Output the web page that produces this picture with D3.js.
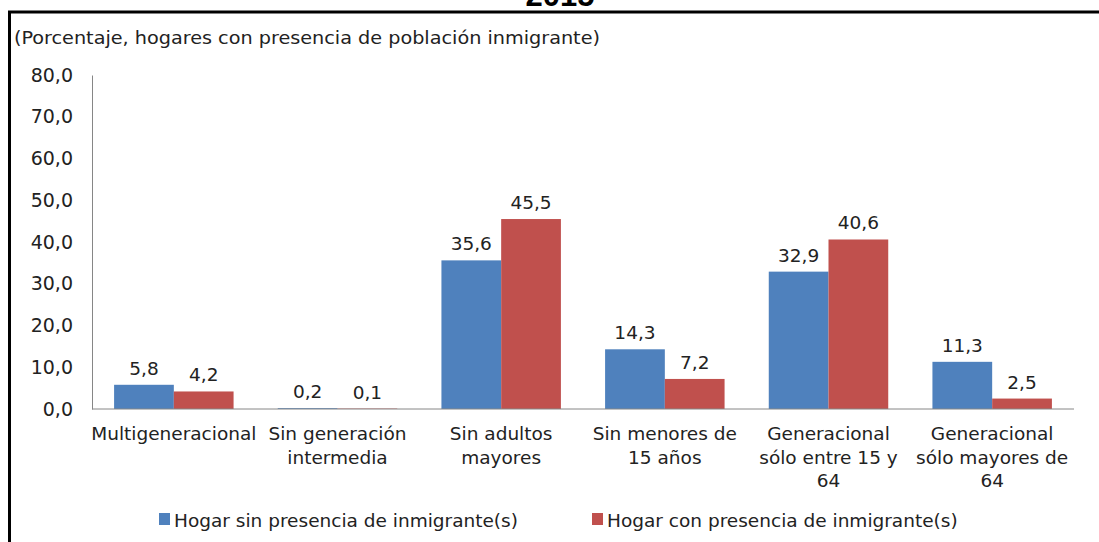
<!DOCTYPE html>
<html>
<head>
<meta charset="utf-8">
<script src="https://cdn.jsdelivr.net/npm/d3@7"></script>
<style>
  body { margin: 0; background: #fff; }
  svg { display: block; }
</style>
</head>
<body>
<div id="plot_area"></div>
<script>
// chart data
var categories = [
  ["Multigeneracional"],
  ["Sin generación", "intermedia"],
  ["Sin adultos", "mayores"],
  ["Sin menores de", "15 años"],
  ["Generacional", "sólo entre 15 y", "64"],
  ["Generacional", "sólo mayores de", "64"]
];
var seriesNames = ["Hogar sin presencia de inmigrante(s)", "Hogar con presencia de inmigrante(s)"];
var sinInmigrante = [5.8, 0.2, 35.6, 14.3, 32.9, 11.3];
var conInmigrante = [4.2, 0.1, 45.5, 7.2, 40.6, 2.5];
var yTicks = [0, 10, 20, 30, 40, 50, 60, 70, 80];
var colors = ["#4F81BD", "#C0504D"];

var W = 1099, H = 542;
var font = "'DejaVu Sans', Verdana, sans-serif";
var fs = "18.5px";
var fmt = function (v) { return d3.format(".1f")(v).replace(".", ","); };

var svg = d3.select("#plot_area").append("svg")
  .attr("width", W).attr("height", H);

// frame (cut off on right and bottom, like the source)
svg.append("rect")
  .attr("x", 9.5).attr("y", 12)
  .attr("width", W + 20).attr("height", H + 20)
  .attr("fill", "none").attr("stroke", "#000").attr("stroke-width", 3);

// title, clipped by the top of the picture
svg.append("text")
  .attr("x", 560).attr("y", 6)
  .attr("text-anchor", "middle")
  .style("font-family", "'Liberation Sans', Arial, sans-serif")
  .style("font-weight", "bold").style("font-size", "31px")
  .text("2015");

svg.append("text")
  .attr("x", 14).attr("y", 44)
  .style("font-family", "'DejaVu Sans Condensed', 'DejaVu Sans', sans-serif")
  .style("font-size", "17px").attr("fill", "#222")
  .attr("textLength", 586).attr("lengthAdjust", "spacingAndGlyphs")
  .text("(Porcentaje, hogares con presencia de población inmigrante)");

var x0 = d3.scaleBand()
  .domain(d3.range(categories.length))
  .range([92, 1074])
  .paddingInner(0.27).paddingOuter(0.135);
var x1 = d3.scaleBand().domain([0, 1]).range([0, x0.bandwidth()]);
var y = d3.scaleLinear().domain([0, 80]).range([409, 75]);

// y axis
var yAxis = svg.append("g")
  .attr("transform", "translate(92,0)")
  .call(d3.axisLeft(y).tickValues(yTicks).tickSize(0).tickPadding(19).tickFormat(fmt));
yAxis.select(".domain").attr("stroke", "#868686");
yAxis.selectAll("text")
  .style("font-family", font).style("font-size", "19px").attr("fill", "#222");

// bars
var series = [sinInmigrante, conInmigrante];
series.forEach(function (vals, s) {
  var g = svg.append("g");
  g.selectAll("rect").data(vals).enter().append("rect")
    .attr("x", function (d, i) { return x0(i) + x1(s); })
    .attr("y", function (d) { return y(d); })
    .attr("width", x1.bandwidth())
    .attr("height", function (d) { return y(0) - y(d); })
    .attr("fill", colors[s]);
  g.selectAll("text").data(vals).enter().append("text")
    .attr("x", function (d, i) { return x0(i) + x1(s) + x1.bandwidth() / 2; })
    .attr("y", function (d) { return y(d) - 10; })
    .attr("text-anchor", "middle")
    .style("font-family", font).style("font-size", fs).attr("fill", "#222")
    .text(fmt);
});

// x baseline
svg.append("line")
  .attr("x1", 92).attr("x2", 1074)
  .attr("y1", y(0)).attr("y2", y(0))
  .attr("stroke", "#868686");

// category labels
var catG = svg.append("g").selectAll("text").data(categories).enter().append("text")
  .attr("text-anchor", "middle")
  .style("font-family", font).style("font-size", fs).attr("fill", "#222");
catG.selectAll("tspan").data(function (d, i) { return d.map(function (t) { return {t: t, i: i}; }); })
  .enter().append("tspan")
  .attr("x", function (d) { return x0(d.i) + x0.bandwidth() / 2; })
  .attr("y", function (d, k) { return 440 + k * 23.5; })
  .text(function (d) { return d.t; });

// legend
var legendX = [159, 592];
var leg = svg.append("g").selectAll("g").data(seriesNames).enter().append("g")
  .attr("transform", function (d, i) { return "translate(" + legendX[i] + ",520)"; });
leg.append("rect")
  .attr("x", 0).attr("y", -7).attr("width", 11).attr("height", 12)
  .attr("fill", function (d, i) { return colors[i]; });
leg.append("text")
  .attr("x", 15).attr("y", 6.5)
  .style("font-family", font).style("font-size", fs).attr("fill", "#222")
  .text(function (d) { return d; });
</script>
</body>
</html>
